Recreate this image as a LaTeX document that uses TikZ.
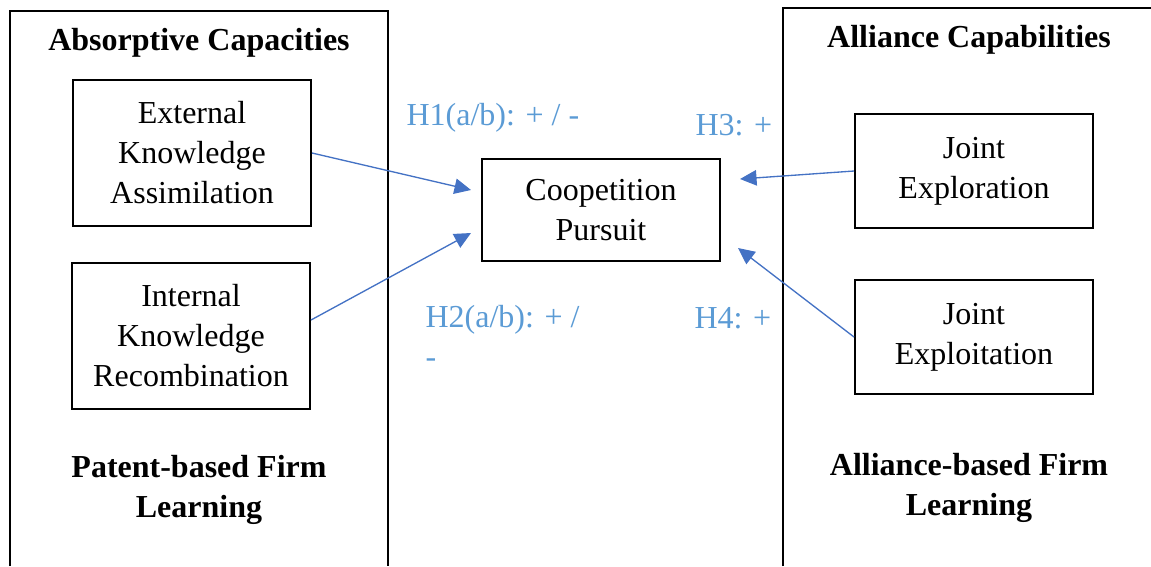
\documentclass[tikz,border=0pt]{standalone}
\usepackage{fontspec}
\setmainfont{Liberation Serif}
\usetikzlibrary{arrows.meta}
\definecolor{arrowblue}{HTML}{4472C4}
\definecolor{hypblue}{HTML}{5B9BD5}
\begin{document}
\begin{tikzpicture}[x=0.375pt,y=-0.375pt,
    font=\fontsize{12}{15}\selectfont,
    frame/.style={line width=0.75pt},
    box/.style={draw,line width=0.75pt,align=center,minimum width=89.25pt,inner sep=0pt},
    head/.style={font=\fontsize{12}{15}\selectfont\bfseries,align=center,inner sep=0pt},
    hyp/.style={text=hypblue,anchor=west,align=left,inner sep=0pt},
    link/.style={draw=arrowblue,line width=0.5pt,-{Triangle[length=6.2pt,width=5.8pt]}}]
      \useasboundingbox (0,0) rectangle (1151,566);

      % the two learning frames
      \draw[frame] (10,566) -- (10,11) -- (388,11) -- (388,566);
      \draw[frame] (783,566) -- (783,8) -- (1151,8);

      \node[head] (abscap) at (199,43) {Absorptive Capacities};
      \node[head] (allcap) at (969,40) {Alliance Capabilities};
      \node[head] (patlearn) at (199,490) {Patent-based Firm\\Learning};
      \node[head] (alllearn) at (969,488) {Alliance-based Firm\\Learning};

      % variables
      \node[box,minimum height=55.1pt] (eka) at (192,153) {External\\Knowledge\\Assimilation};
      \node[box,minimum height=54.75pt] (ikr) at (191,336) {Internal\\Knowledge\\Recombination};
      \node[box,minimum height=38.6pt] (coop) at (601,210) {Coopetition\\Pursuit};
      \node[box,minimum height=42.75pt] (jexr) at (974,171) {Joint\\Exploration};
      \node[box,minimum height=42.4pt] (jexp) at (974,337) {Joint\\Exploitation};

      % hypotheses
      \draw[link] (eka.east) -- ([shift={(-10,-20)}]coop.west);
      \draw[link] ([shift={(0,-16)}]ikr.east) -- ([shift={(-10,23)}]coop.west);
      \draw[link] (jexr.west) -- ([shift={(19,-31)}]coop.east);
      \draw[link] (jexp.west) -- ([shift={(17,38)}]coop.east);

      \node[hyp] (h1) at (406,118) {H1(a/b): + / -};
      \node[hyp] (h2) at (425,336) {H2(a/b): + /\\-};
      \node[hyp] (h3) at (695,125) {H3: +};
      \node[hyp] (h4) at (694,318) {H4: +};
\end{tikzpicture}
\end{document}
